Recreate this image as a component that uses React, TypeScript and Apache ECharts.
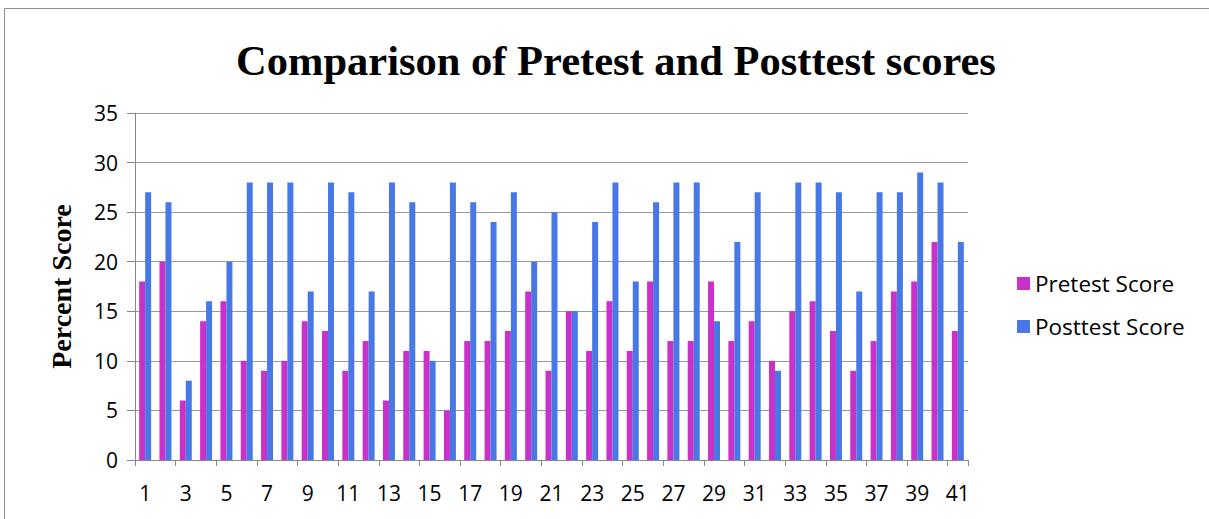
import React, { useEffect, useRef } from "react";
import * as echarts from "echarts";

const categories = Array.from({ length: 41 }, (_, i) => String(i + 1));
const pretest = [18, 20, 6, 14, 16, 10, 9, 10, 14, 13, 9, 12, 6, 11, 11, 5, 12, 12, 13, 17, 9, 15, 11, 16, 11, 18, 12, 12, 18, 12, 14, 10, 15, 16, 13, 9, 12, 17, 18, 22, 13];
const posttest = [27, 26, 8, 16, 20, 28, 28, 28, 17, 28, 27, 17, 28, 26, 10, 28, 26, 24, 27, 20, 25, 15, 24, 28, 18, 26, 28, 28, 14, 22, 27, 9, 28, 28, 27, 17, 27, 27, 29, 28, 22];

export default function App() {
  const ref = useRef<HTMLDivElement>(null);
  useEffect(() => {
    if (!ref.current) return;
    const chart = echarts.init(ref.current, null, { renderer: "svg" });
    const font = "Open Sans";
    chart.setOption({
      animation: false,
      backgroundColor: "#fff",
      title: {
        text: "Comparison of Pretest and Posttest scores",
        left: 611,
        textAlign: "center",
        top: 34,
        textStyle: { fontFamily: "Liberation Serif", fontWeight: "bold", fontSize: 42.5, color: "#000" },
      },
      graphic: [
        { type: "rect", shape: { x: 4.5, y: 8.5, width: 1220, height: 530 }, style: { fill: "none", stroke: "#8c8c8c", lineWidth: 1 }, silent: true },
      ],
      legend: {
        orient: "vertical",
        left: 1012,
        top: 267,
        itemWidth: 13,
        itemHeight: 13,
        itemGap: 20,
        icon: "rect",
        textStyle: { fontFamily: font, fontSize: 22.5, color: "#000" },
        data: ["Pretest Score", "Posttest Score"],
      },
      grid: { left: 135, right: 241, top: 113, bottom: 59 },
      xAxis: {
        type: "category",
        data: categories,
        axisLine: { lineStyle: { color: "#888" } },
        axisTick: { show: true, length: 6, lineStyle: { color: "#888" } },
        axisLabel: { interval: 1, fontFamily: font, fontSize: 21, color: "#000", margin: 22 },
      },
      yAxis: {
        type: "value",
        min: 0,
        max: 35,
        interval: 5,
        name: "Percent Score",
        nameLocation: "middle",
        nameGap: 60,
        nameTextStyle: { fontFamily: "Liberation Serif", fontWeight: "bold", fontSize: 28, color: "#000" },
        axisLine: { show: true, lineStyle: { color: "#888" } },
        axisTick: { show: true, length: 8, lineStyle: { color: "#888" } },
        axisLabel: { fontFamily: font, fontSize: 21, color: "#000", margin: 17 },
        splitLine: { lineStyle: { color: "#999", width: 1 } },
      },
      series: [
        {
          name: "Pretest Score",
          type: "bar",
          data: pretest,
          barGap: "0%",
          barCategoryGap: "41%",
          itemStyle: { color: "#C832C8" },
        },
        {
          name: "Posttest Score",
          type: "bar",
          data: posttest,
          itemStyle: { color: "#4877E6" },
        },
      ],
    });
    return () => chart.dispose();
  }, []);
  return <div ref={ref} style={{ position: "fixed", left: 0, top: 0, width: 1209, height: 519 }} />;
}
